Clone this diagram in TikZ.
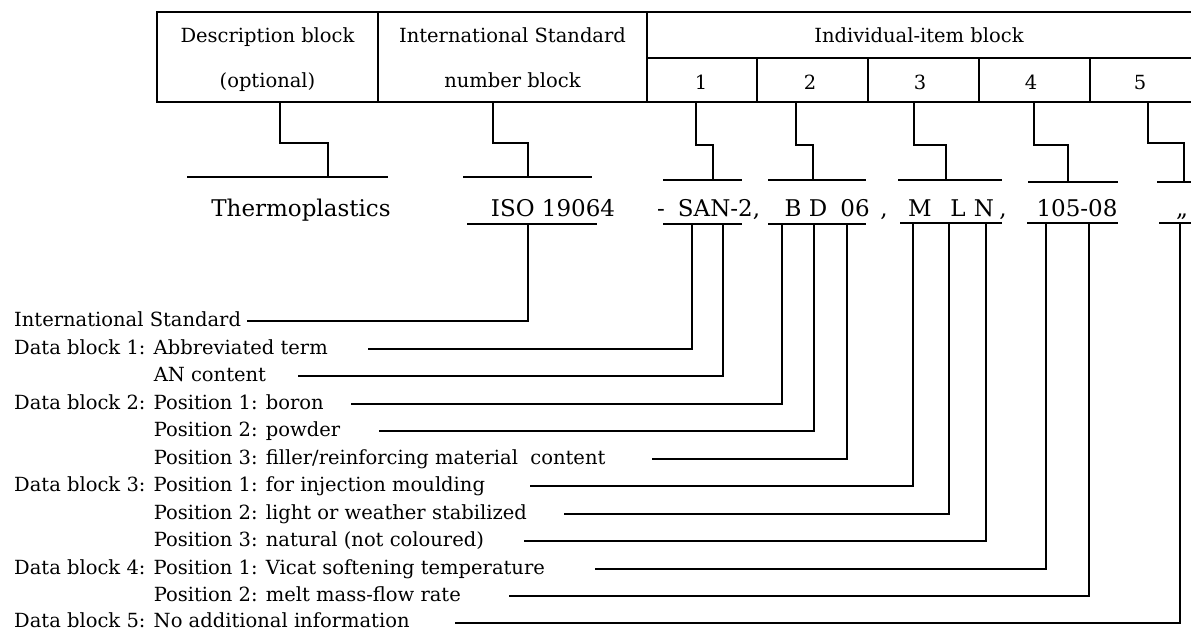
\documentclass[tikz,border=0pt]{standalone}
\usepackage{fontspec}
\setmainfont{DejaVu Serif}

\tikzset{
  frame/.style={line width=2pt},
  rule/.style={line width=2pt},
  headtext/.style={inner sep=0pt, anchor=base, font=\fontsize{19.5}{23}\selectfont},
  codetext/.style={inner sep=0pt, anchor=base, font=\fontsize{23}{27}\selectfont},
  keytext/.style={inner sep=0pt, anchor=base west, font=\fontsize{19.5}{23}\selectfont},
}

\begin{document}
\begin{tikzpicture}[x=1pt,y=-1pt]
  \useasboundingbox (0,0) rectangle (1191,631);

  % heading table
  \begin{scope}[frame]
    \draw (1191,12) -- (157,12) -- (157,102) -- (1191,102);
    \draw (378,12) -- (378,102);
    \draw (647,12) -- (647,102);
    \draw (647,58) -- (1191,58);
    \foreach \x in {757,868,979,1090}
      \draw (\x,58) -- (\x,102);
  \end{scope}

  \begin{scope}[every node/.style={headtext}]
    \node (desc) at (267.5,43) {Description block};
    \node (opt) at (267.5,88) {(optional)};
    \node (isohead) at (512.5,43) {International Standard};
    \node (isonum) at (512.5,88) {number block};
    \node (item) at (919,43) {Individual-item block};
    \node (col1) at (701,90) {1};
    \node (col2) at (810,90) {2};
    \node (col3) at (920,90) {3};
    \node (col4) at (1031,90) {4};
    \node (col5) at (1140,90) {5};
  \end{scope}

  % the designation itself
  \begin{scope}[every node/.style={codetext}]
    \node (thermo) at (301,216) {Thermoplastics};
    \node (iso) at (553,216) {ISO 19064};
    \node (dash) at (661,216) {-};
    \node (san) at (719,216) {SAN-2,};
    \node (posB) at (793,216) {B};
    \node (posD) at (818,216) {D};
    \node (pos06) at (855,216) {06};
    \node (sep2) at (884,216) {,};
    \node (posM) at (920,216) {M};
    \node (posL) at (958,216) {L};
    \node (posN) at (984,216) {N};
    \node (sep3) at (1003,216) {,};
    \node (vicat) at (1077,216) {105-08};
    \node (empty) at (1182,216) {„};
  \end{scope}

  % bars over and under the designation
  \begin{scope}[rule]
    \draw (187,177) -- (388,177);
    \draw (463,177) -- (592,177);
    \draw (663,180) -- (742,180);
    \draw (768,180) -- (866,180);
    \draw (898,180) -- (1002,180);
    \draw (1028,182) -- (1118,182);
    \draw (1157,182) -- (1191,182);

    \draw (467,224) -- (597,224);
    \draw (663,224) -- (742,224);
    \draw (768,224) -- (866,224);
    \draw (900,223) -- (1002,223);
    \draw (1027,223) -- (1118,223);
    \draw (1159,223) -- (1191,223);
  \end{scope}

  % steps from the table down to the bars
  \coordinate (descT) at (280,102);  \coordinate (descB) at (328,177);
  \coordinate (isoT) at (493,102);   \coordinate (isoB) at (528,177);
  \coordinate (c1T) at (696,102);    \coordinate (c1B) at (713,180);
  \coordinate (c2T) at (796,102);    \coordinate (c2B) at (813,180);
  \coordinate (c3T) at (914,102);    \coordinate (c3B) at (946,180);
  \coordinate (c4T) at (1034,102);   \coordinate (c4B) at (1068,182);
  \coordinate (c5T) at (1148,102);   \coordinate (c5B) at (1184,182);

  \begin{scope}[rule]
    \draw (descT) -- ++(0,41) -| (descB);
    \draw (isoT) -- ++(0,41) -| (isoB);
    \draw (c1T) -- ++(0,43) -| (c1B);
    \draw (c2T) -- ++(0,43) -| (c2B);
    \draw (c3T) -- ++(0,43) -| (c3B);
    \draw (c4T) -- ++(0,43) -| (c4B);
    \draw (c5T) -- ++(0,41) -| (c5B);
  \end{scope}

  % key
  \begin{scope}[every node/.style={keytext}]
    \node (lstd) at (14,326) {International Standard};
    \node (lterm) at (14,354) {Data block 1: Abbreviated term};
    \node (lan) at (14,381) {\phantom{Data block 1: }AN content};
    \node (lboron) at (14,409) {Data block 2: Position 1: boron};
    \node (lpowder) at (14,436) {\phantom{Data block 2: }Position 2: powder};
    \node (lfiller) at (14,464) {\phantom{Data block 2: }Position 3: filler/reinforcing material\ \ content};
    \node (lmould) at (14,491) {Data block 3: Position 1: for injection moulding};
    \node (llight) at (14,519) {\phantom{Data block 3: }Position 2: light or weather stabilized};
    \node (lnatural) at (14,546) {\phantom{Data block 3: }Position 3: natural (not coloured)};
    \node (lvicat) at (14,574) {Data block 4: Position 1: Vicat softening temperature};
    \node (lmelt) at (14,601) {\phantom{Data block 4: }Position 2: melt mass-flow rate};
    \node (lnone) at (14,627) {Data block 5: No additional information};
  \end{scope}

  % taps on the lower bars and the free ends of the key lines
  \coordinate (isoU) at (528,224);   \coordinate (k0) at (247,321);
  \coordinate (sanU1) at (692,224);  \coordinate (k1) at (368,349);
  \coordinate (sanU2) at (723,224);  \coordinate (k2) at (298,376);
  \coordinate (bdU1) at (782,224);   \coordinate (k3) at (351,404);
  \coordinate (bdU2) at (814,224);   \coordinate (k4) at (379,431);
  \coordinate (bdU3) at (847,224);   \coordinate (k5) at (652,459);
  \coordinate (mlnU1) at (913,223);  \coordinate (k6) at (530,486);
  \coordinate (mlnU2) at (949,223);  \coordinate (k7) at (564,514);
  \coordinate (mlnU3) at (986,223);  \coordinate (k8) at (524,541);
  \coordinate (numU1) at (1046,223); \coordinate (k9) at (595,569);
  \coordinate (numU2) at (1089,223); \coordinate (k10) at (509,596);
  \coordinate (fiveU) at (1180,223); \coordinate (k11) at (455,623);

  \foreach \t/\k in {isoU/k0, sanU1/k1, sanU2/k2, bdU1/k3, bdU2/k4, bdU3/k5,
                     mlnU1/k6, mlnU2/k7, mlnU3/k8, numU1/k9, numU2/k10, fiveU/k11}
    \draw[rule] (\t) |- (\k);
\end{tikzpicture}
\end{document}
